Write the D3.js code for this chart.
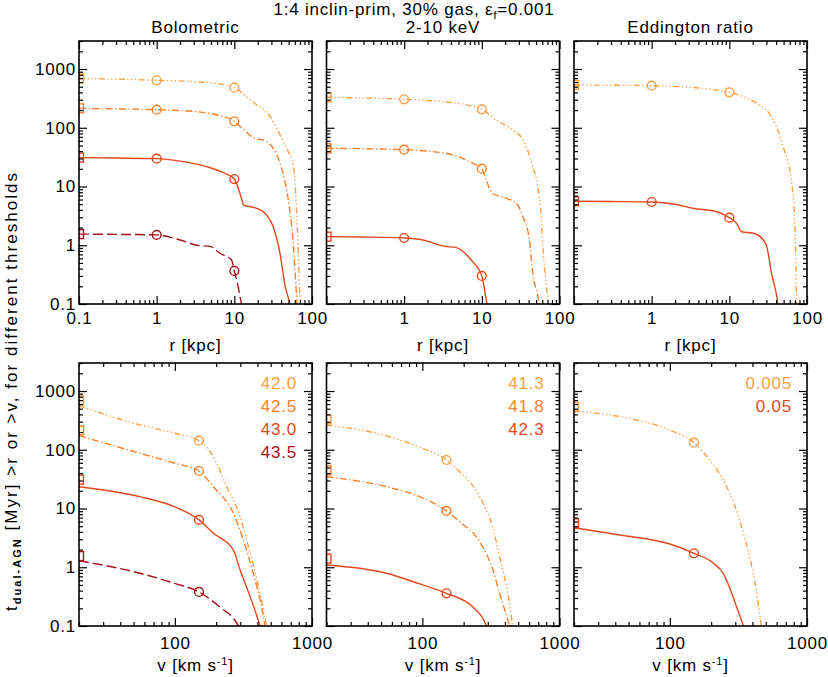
<!DOCTYPE html>
<html><head><meta charset="utf-8">
<script src="https://cdn.jsdelivr.net/npm/d3@7"></script>
<style>body{margin:0;background:#fff} text{font-family:"Liberation Sans",Arial,Helvetica,sans-serif;fill:#000}</style>
</head><body><svg id="c" width="828" height="677"></svg>
<script>
// ---------------- data ----------------
const panelTitles = ["Bolometric", "2-10 keV", "Eddington ratio"];
const bolThresholds = ["42.0", "42.5", "43.0", "43.5"];
const hxThresholds = ["41.3", "41.8", "42.3"];
const eddThresholds = ["0.005", "0.05"];

const rTicks = [0.1, 1, 10, 100];
const rTickLabelsFirst = ["0.1", "1", "10", "100"];
const rTickLabelsOther = ["", "1", "10", "100"];
const vTicks = [100, 1000];
const vTickLabels = ["100", "1000"];
const yTicks = [0.1, 1, 10, 100, 1000];
const yTickLabels = ["0.1", "1", "10", "100", "1000"];

// total time (square marker at left edge)
const bolTotal = [690, 214, 31, 1.55];
const hxTotal = [330, 44.8, 1.4];
const eddTotal = [535, 5.6];

// circles at r = 1 and r = 10 kpc
const circleR = [1, 10];
const bolRCircles = [[643, 481], [203, 129], [29.8, 13.4], [1.5, 0.365]];
const hxRCircles = [[305, 206], [42.4, 20.1], [1.33, 0.3]];
const eddRCircles = [[520, 402], [5.45, 2.95]];
// circles at v = 150 km/s
const circleV = 150;
const bolVCircles = [143, 43.5, 6.4, 0.38];
const hxVCircles = [67, 9.1, 0.36];
const eddVCircles = [132, 1.73];

// t(>r) curves : [r kpc, t Myr]
const bolR_420 = [[0.1,690],[0.3,675],[1,643],[3,610],[6,565],[10,481],[17,280],[28.8,155],[40,70],[50,38],[57,25],[63,4.5],[66.7,0.73],[70,0.12],[72,0.08]];
const bolR_425 = [[0.1,214],[0.3,210],[1,203],[3,190],[6,165],[10,129],[13,95],[17,70],[26,58],[38.7,24.8],[49.5,5.9],[57,1.2],[63,0.15],[65,0.08]];
const bolR_430 = [[0.1,31],[0.3,30.5],[1,29.8],[2,27],[4.4,21.8],[7,17.5],[10,13.4],[11.8,7.7],[13.3,4.8],[19.4,4.26],[26,3.3],[31.7,2.07],[38.7,0.73],[44.9,0.21],[52,0.1],[54,0.08]];
const bolR_435 = [[0.1,1.55],[0.3,1.53],[1,1.5],[2,1.23],[3.3,1.0],[5,0.95],[6.5,0.73],[9.2,0.56],[10,0.365],[11,0.22],[12.4,0.1],[13,0.08]];

const hxR_413 = [[0.1,330],[0.3,322],[1,305],[3,280],[6,250],[10,206],[15.4,135],[25,92],[33.8,62],[45.4,21.8],[52.6,9.9],[58.2,3.06],[61,0.94],[66,0.3],[71,0.117],[73,0.08]];
const hxR_418 = [[0.1,44.8],[0.3,44],[1,42.4],[2,40],[4.26,34.4],[7.7,24.8],[10,20.1],[11.4,12.9],[13.5,7.7],[20.7,6.3],[27.7,5.2],[33.8,3.06],[41,1.23],[45.4,0.33],[53.7,0.117],[56,0.08]];
const hxR_423 = [[0.1,1.4],[0.3,1.38],[1,1.33],[1.75,1.23],[3.3,0.96],[4.7,0.91],[7.3,0.56],[10,0.3],[11.4,0.117],[12,0.08]];

const eddR_0005 = [[0.1,535],[0.3,530],[1,520],[3,490],[6,450],[10,402],[15.1,338],[22.5,261],[36.8,136],[49.5,47.6],[63.5,11.3],[68,4.5],[71,1],[73.6,0.12],[75,0.08]];
const eddR_005 = [[0.1,5.6],[0.3,5.55],[1,5.45],[2,5.0],[3.4,4.26],[6.9,3.72],[10,2.95],[12.4,2.36],[14.4,1.7],[20.4,1.6],[27.4,1.23],[30.3,0.95],[35,0.33],[41.5,0.117],[43,0.08]];

// t(>v) curves : [v km/s, t Myr]
const bolV_420 = [[20,563],[55.7,264],[100,191],[150,143],[191,76],[239,23.5],[299,7.3],[334,2.9],[418,0.36],[468,0.1],[480,0.08]];
const bolV_425 = [[20,174],[55.7,87],[100,59],[150,43.5],[191,23.5],[267,8.3],[316,2.9],[373,0.79],[442,0.144],[460,0.08]];
const bolV_430 = [[20,23.5],[55.7,15.9],[100,10.7],[150,6.4],[191,3.8],[267,1.97],[299,0.9],[353,0.32],[418,0.1],[430,0.08]];
const bolV_435 = [[20,1.29],[55.7,0.79],[100,0.53],[150,0.38],[213,0.21],[290,0.1],[300,0.08]];

const hxV_413 = [[20,264],[54.8,172],[95.8,110],[150,67],[187,42.4],[262,15.9],[327,4.6],[366,1.51],[446,0.144],[460,0.08]];
const hxV_418 = [[20,34.8],[54.8,23.5],[95.8,15.9],[150,9.1],[187,5.97],[262,2.72],[327,0.9],[366,0.36],[433,0.1],[445,0.08]];
const hxV_423 = [[20,1.09],[54.8,0.79],[95.8,0.52],[150,0.36],[234,0.21],[293,0.1],[300,0.08]];

const eddV_0005 = [[20,457],[57.3,321],[100,217],[150,132],[196,66],[245,30.6],[344,3.8],[430,0.36],[455,0.144],[470,0.08]];
const eddV_005 = [[20,4.72],[43.3,3.54],[100,2.49],[150,1.73],[208,1.17],[245,0.79],[307,0.21],[344,0.1],[355,0.08]];

// ---------------- styles ----------------
const C1 = "#fca044", C2 = "#f8802a", C3 = "#e1481c", C4 = "#a5121e";
const DASH3DOT = "6,2.5,1.3,2.5,1.3,2.5,1.3,2.5", DASHDOT = "7,2.5,1.3,2.5", DASHED = "10,4", SOLID = null;

const panels = [
  { title: panelTitles[0], labels: bolThresholds, colors: [C1,C2,C3,C4], dashes: [DASH3DOT,DASHDOT,SOLID,DASHED],
    rSeries: [bolR_420,bolR_425,bolR_430,bolR_435], vSeries: [bolV_420,bolV_425,bolV_430,bolV_435],
    total: bolTotal, rC: bolRCircles, vC: bolVCircles },
  { title: panelTitles[1], labels: hxThresholds, colors: [C1,C2,C3], dashes: [DASH3DOT,DASHDOT,SOLID],
    rSeries: [hxR_413,hxR_418,hxR_423], vSeries: [hxV_413,hxV_418,hxV_423],
    total: hxTotal, rC: hxRCircles, vC: hxVCircles },
  { title: panelTitles[2], labels: eddThresholds, colors: [C1,C3], dashes: [DASH3DOT,SOLID],
    rSeries: [eddR_0005,eddR_005], vSeries: [eddV_0005,eddV_005],
    total: eddTotal, rC: eddRCircles, vC: eddVCircles }
];

// ---------------- layout ----------------
const svg = d3.select("#c");
svg.append("rect").attr("width",828).attr("height",677).attr("fill","#fff");
const PX = [79, 326.5, 574], PW = 233;
const ROWS = [{top: 41, bottom: 304}, {top: 363, bottom: 626}];
const FS = "17px", LS = "0.8px";
const txt = sel => sel.style("font-size", FS).style("letter-spacing", LS);

// Title
const t = svg.append("text").attr("x", 414).attr("y", 15).attr("text-anchor","middle").call(txt);
t.append("tspan").text("1:4 inclin-prim, 30% gas, ε");
t.append("tspan").attr("dy", 4).style("font-size","11px").text("f");
t.append("tspan").attr("dy", -4).text("=0.001");

// Y label
const yl = svg.append("text").attr("transform","translate(17,391) rotate(-90)").attr("text-anchor","middle").style("font-size", FS);
yl.append("tspan").text("t");
yl.append("tspan").attr("dy", 4).style("font-size","11px").style("font-weight","bold").text("dual-AGN");
yl.append("tspan").attr("dy", -4).text(" [Myr] >r or >v, for different thresholds");
{
  const n = yl.text().length;
  const len = yl.node().getComputedTextLength();
  const target = 440;
  yl.style("letter-spacing", Math.max(0, (target - len) / n) + "px");
}

function minorTicks(domain){
  const out = [];
  const lo = Math.floor(Math.log10(domain[0])), hi = Math.ceil(Math.log10(domain[1]));
  for (let e = lo; e < hi; e++) for (let m = 2; m < 10; m++) {
    const v = m * Math.pow(10, e);
    if (v >= domain[0]*0.9999 && v <= domain[1]*1.0001) out.push(v);
  }
  return out;
}

panels.forEach((p, pi) => {
  const x0 = PX[pi];
  svg.append("text").attr("x", x0 + PW/2).attr("y", 33).attr("text-anchor","middle").call(txt).text(p.title);

  ROWS.forEach((row, ri) => {
    const xDom = ri === 0 ? [0.1, 100] : [20, 1000];
    const x = d3.scaleLog().domain(xDom).range([x0, x0 + PW]);
    const y = d3.scaleLog().domain([0.1, 3000]).range([row.bottom, row.top]);
    const g = svg.append("g");
    const clipId = `clip${pi}${ri}`;
    g.append("clipPath").attr("id", clipId).append("rect")
      .attr("x", x0).attr("y", row.top).attr("width", PW).attr("height", row.bottom - row.top);
    const plot = g.append("g").attr("clip-path", `url(#${clipId})`);

    const series = ri === 0 ? p.rSeries : p.vSeries;
    const line = d3.line().x(d => x(d[0])).y(d => y(d[1])).curve(d3.curveMonotoneX);
    series.forEach((s, si) => {
      plot.append("path").attr("d", line(s)).attr("fill","none")
        .attr("stroke", p.colors[si]).attr("stroke-width", 1.4)
        .attr("stroke-dasharray", p.dashes[si]);
      plot.append("rect").attr("x", x(xDom[0]) - 4.5).attr("y", y(p.total[si]) - 4.5)
        .attr("width", 9).attr("height", 9).attr("fill","none")
        .attr("stroke", p.colors[si]).attr("stroke-width", 1.4);
      const circ = ri === 0 ? circleR.map((r, k) => [r, p.rC[si][k]]) : [[circleV, p.vC[si]]];
      circ.forEach(c => {
        plot.append("circle").attr("cx", x(c[0])).attr("cy", y(c[1])).attr("r", 4.4)
          .attr("fill","none").attr("stroke", p.colors[si]).attr("stroke-width", 1.4);
      });
    });

    const majX = ri === 0 ? rTicks : vTicks;
    const majXL = ri === 0 ? (pi === 0 ? rTickLabelsFirst : rTickLabelsOther) : vTickLabels;
    const mk = (axisFn, scale, vals, size, labels, pad) => axisFn(scale).tickValues(vals).tickSize(size)
      .tickPadding(pad).tickFormat((d, i) => labels ? labels[i] : "");
    const bottomG = g.append("g").attr("transform", `translate(0,${row.bottom})`);
    bottomG.call(mk(d3.axisBottom, x, majX, -8, majXL, ri === 0 ? 8 : 11));
    bottomG.append("g").call(mk(d3.axisBottom, x, minorTicks(xDom), -4, null, 0));
    const topG = g.append("g").attr("transform", `translate(0,${row.top})`);
    topG.call(mk(d3.axisTop, x, majX, -8, null, 0));
    topG.append("g").call(mk(d3.axisTop, x, minorTicks(xDom), -4, null, 0));
    const leftG = g.append("g").attr("transform", `translate(${x0},0)`);
    leftG.call(mk(d3.axisLeft, y, yTicks, -8, pi === 0 ? yTickLabels : null, 3));
    leftG.append("g").call(mk(d3.axisLeft, y, minorTicks([0.1, 3000]), -4, null, 0));
    const rightG = g.append("g").attr("transform", `translate(${x0 + PW},0)`);
    rightG.call(mk(d3.axisRight, y, yTicks, -8, null, 0));
    rightG.append("g").call(mk(d3.axisRight, y, minorTicks([0.1, 3000]), -4, null, 0));
    g.selectAll(".domain").remove();
    g.selectAll(".tick line").attr("stroke","#000").attr("stroke-width",1.2);
    g.selectAll(".tick text").style("font-size", FS).style("letter-spacing", LS)
      .style("font-family","'Liberation Sans',Arial,sans-serif").attr("fill","#000");
    g.append("rect").attr("x", x0).attr("y", row.top).attr("width", PW).attr("height", row.bottom - row.top)
      .attr("fill","none").attr("stroke","#000").attr("stroke-width",1.6);

    const xt = g.append("text").attr("x", x0 + PW/2).attr("y", ri === 0 ? 351 : 671)
      .attr("text-anchor","middle").call(txt);
    if (ri === 0) xt.text("r [kpc]");
    else {
      xt.append("tspan").text("v [km s");
      xt.append("tspan").attr("dy", -6).style("font-size","11px").text("-1");
      xt.append("tspan").attr("dy", 6).text("]");
    }

    if (ri === 1) {
      p.labels.forEach((lab, li) => {
        g.append("text").attr("x", x0 + PW - 15).attr("y", 388.5 + li * 23.3)
          .attr("text-anchor","end").call(txt).style("fill", p.colors[li]).text(lab);
      });
    }
  });
});
</script></body></html>
